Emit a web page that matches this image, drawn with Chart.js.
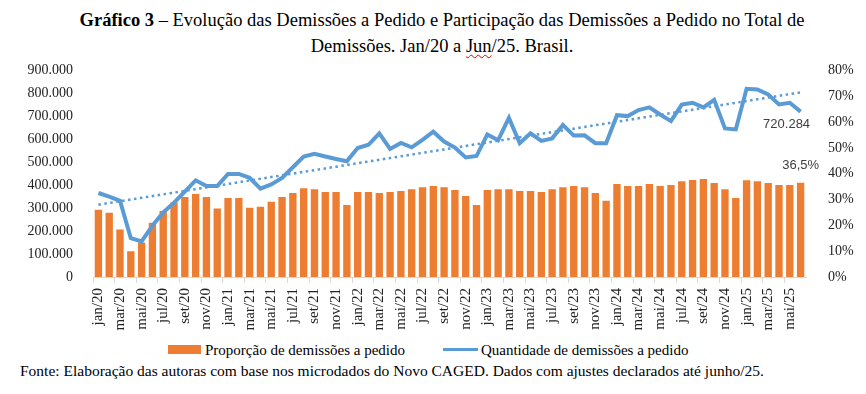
<!DOCTYPE html>
<html>
<head>
<meta charset="utf-8">
<script src="https://cdn.jsdelivr.net/npm/chart.js@4.4.1/dist/chart.umd.min.js"></script>
<style>
  html, body { margin: 0; padding: 0; background: #fff; }
  #page { position: relative; width: 866px; height: 394px; overflow: hidden; font-family: "Liberation Serif", serif; color: #000; }
  #titulo { position: absolute; top: 7px; left: 0; width: 884px; text-align: center; font-size: 18.5px; line-height: 26px; }
  #titulo .sub { text-decoration: underline wavy #e00000; text-decoration-thickness: 1px; text-underline-offset: 2px; }
  #wrap { position: absolute; left: 0; top: 48px; width: 866px; height: 288px; }
  #legenda { position: absolute; top: 339px; left: 168px; height: 18px; font-size: 15px; line-height: 18px; white-space: nowrap; }
  #legenda span { display: inline-block; vertical-align: middle; }
  .box { width: 33px; height: 9px; background: #ED7D31; margin-right: 4px; }
  .lin { width: 35px; height: 3px; background: #5B9BD5; margin-left: 38px; margin-right: 3px; }
  #fonte { position: absolute; top: 361px; left: 20px; font-size: 15.5px; line-height: 20px; white-space: nowrap; }
</style>
</head>
<body>
<div id="page">
  <div id="titulo"><b>Gráfico 3</b> – Evolução das Demissões a Pedido e Participação das Demissões a Pedido no Total de<br>Demissões. Jan/20 a <span class="sub">Jun</span>/25. Brasil.</div>
  <div id="wrap"><canvas id="grafico"></canvas></div>
  <div id="legenda"><span class="box"></span><span>Proporção de demissões a pedido</span><span class="lin"></span><span>Quantidade de demissões a pedido</span></div>
  <div id="fonte">Fonte: Elaboração das autoras com base nos microdados do Novo CAGED. Dados com ajustes declarados até junho/25.</div>
</div>
<script>
var meses = ['jan', 'fev', 'mar', 'abr', 'mai', 'jun', 'jul', 'ago', 'set', 'out', 'nov', 'dez'];
var anos = ['20', '21', '22', '23', '24', '25'];

// % de demissoes a pedido no total de demissoes (eixo direito)
var proporcao = [
    26.0, 24.9, 18.4, 10.0, 13.4, 21.0, 25.6, 28.8, 31.0, 32.1, 31.0, 26.5,
    30.6, 30.6, 26.8, 27.2, 29.1, 31.0, 32.5, 34.4, 34.0, 32.9, 32.9, 27.9,
    32.9, 32.9, 32.5, 32.9, 33.3, 34.0, 34.8, 35.2, 34.8, 33.7, 31.4, 27.9,
    33.7, 34.0, 34.0, 33.3, 33.3, 32.9, 34.0, 34.8, 35.2, 34.8, 32.5, 29.5,
    36.0, 35.2, 35.2, 36.0, 35.2, 35.6, 37.1, 37.6, 37.9, 36.4, 34.0, 30.6,
    37.5, 37.1, 36.4, 35.6, 35.6, 36.5
];

// quantidade de demissoes a pedido (eixo esquerdo)
var quantidade = [
    366000, 350000, 332000, 169000, 155000, 224000, 281000, 324000, 372000, 421000, 396000, 396000,
    449000, 449000, 432000, 385000, 403000, 432000, 478000, 525000, 537000, 525000, 514000, 504000,
    562000, 576000, 626000, 558000, 584000, 565000, 597000, 633000, 590000, 564000, 521000, 527000,
    621000, 596000, 693000, 583000, 626000, 593000, 604000, 662000, 616000, 617000, 583000, 583000,
    705000, 701000, 727000, 739000, 708000, 679000, 751000, 759000, 739000, 772000, 647000, 643000,
    820000, 817000, 795000, 752000, 759000, 720284
];

var labels = [];
anos.forEach(function(a) {
    meses.forEach(function(m) { labels.push(m + '/' + a); });
});
labels = labels.slice(0, quantidade.length);

// linha de tendencia linear (minimos quadrados), como no Excel
var n = quantidade.length, sx = 0, sy = 0, sxy = 0, sxx = 0;
quantidade.forEach(function(v, i) { sx += i; sy += v; sxy += i * v; sxx += i * i; });
var inc = (n * sxy - sx * sy) / (n * sxx - sx * sx);
var lin0 = (sy - inc * sx) / n;
var tendencia = quantidade.map(function(v, i) { return lin0 + inc * i; });

function milhar(v) {
    return String(Math.round(v)).replace(/\B(?=(\d{3})+(?!\d))/g, '.');
}

var rotulos = {
    id: 'rotulos',
    afterDatasetsDraw: function(chart) {
        var ctx = chart.ctx;
        var mBarra = chart.getDatasetMeta(2).data;
        var pb = mBarra[mBarra.length - 1];
        var yl = chart.scales.y.getPixelForValue(quantidade[n - 1]);
        ctx.save();
        ctx.font = '13px "Liberation Sans"';
        ctx.fillStyle = '#404040';
        ctx.textAlign = 'center';
        ctx.textBaseline = 'middle';
        ctx.fillText(milhar(quantidade[n - 1]), pb.x - 14, yl + 13);
        ctx.fillText(proporcao[n - 1].toFixed(1).replace('.', ',') + '%', pb.x, pb.y - 17);
        ctx.restore();
    }
};

var fonteEixo = { family: 'Liberation Serif', size: 14 };

new Chart(document.getElementById('grafico'), {
    type: 'bar',
    data: {
        labels: labels,
        datasets: [{
            type: 'line',
            label: 'Quantidade de demissões a pedido',
            data: quantidade,
            yAxisID: 'y',
            borderColor: '#5B9BD5',
            borderWidth: 4,
            pointRadius: 0,
            tension: 0,
            order: 1
        }, {
            type: 'line',
            label: 'Linear (Quantidade de demissões a pedido)',
            data: tendencia,
            yAxisID: 'y',
            borderColor: '#5B9BD5',
            borderWidth: 2.5,
            borderDash: [2.5, 3.5],
            pointRadius: 0,
            order: 2
        }, {
            label: 'Proporção de demissões a pedido',
            data: proporcao,
            yAxisID: 'y1',
            backgroundColor: '#ED7D31',
            categoryPercentage: 1,
            barPercentage: 0.68,
            order: 3
        }]
    },
    options: {
        responsive: true,
        maintainAspectRatio: false,
        animation: false,
        layout: { padding: { top: 4, left: 0, right: 0, bottom: 0 } },
        plugins: {
            legend: { display: false },
            tooltip: { enabled: false }
        },
        scales: {
            x: {
                offset: true,
                afterFit: function(s) { s.height = 59; },
                grid: {
                    offset: true,
                    drawOnChartArea: false,
                    tickLength: 6,
                    color: function(c) { return c.index % 2 === 0 ? '#d9d9d9' : 'rgba(0,0,0,0)'; }
                },
                border: { color: '#d9d9d9' },
                ticks: {
                    autoSkip: false,
                    maxRotation: 90,
                    minRotation: 90,
                    padding: 5,
                    color: '#222',
                    font: { family: 'Liberation Serif', size: 15 },
                    callback: function(v, i) { return i % 2 === 0 ? labels[i] : ''; }
                }
            },
            y: {
                position: 'left',
                min: 0,
                max: 900000,
                afterFit: function(s) { s.width = 93; },
                grid: { display: false },
                border: { display: false },
                ticks: {
                    stepSize: 100000,
                    padding: 12,
                    color: '#222',
                    font: fonteEixo,
                    callback: function(v) { return milhar(v); }
                }
            },
            y1: {
                position: 'right',
                min: 0,
                max: 80,
                afterFit: function(s) { s.width = 60; },
                grid: { display: false },
                border: { display: false },
                ticks: {
                    stepSize: 10,
                    padding: 14,
                    color: '#222',
                    font: fonteEixo,
                    callback: function(v) { return v + '%'; }
                }
            }
        }
    },
    plugins: [rotulos]
});
</script>
</body>
</html>
